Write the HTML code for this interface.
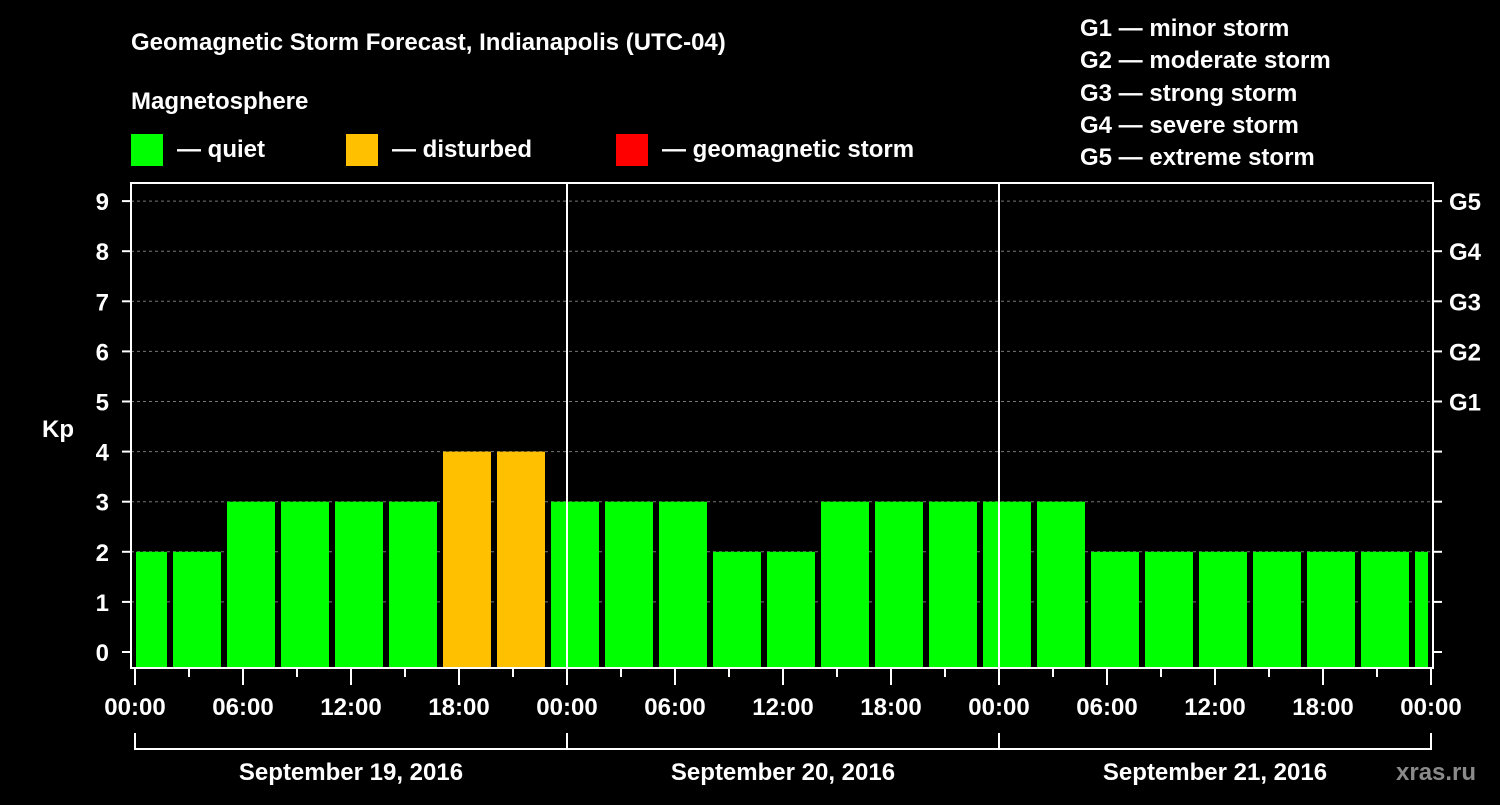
<!DOCTYPE html>
<html><head><meta charset="utf-8"><style>
body{margin:0;background:#000;width:1500px;height:800px;overflow:hidden}
svg text{font-family:"Liberation Sans",sans-serif;font-weight:bold;fill:#fff}
</style></head><body>
<svg id="c" width="1500" height="800" xmlns="http://www.w3.org/2000/svg">
<text x="131" y="50" font-size="24">Geomagnetic Storm Forecast, Indianapolis (UTC-04)</text>
<text x="131" y="109" font-size="24">Magnetosphere</text>
<rect x="131" y="134" width="32" height="32" fill="#00ff00"/>
<text x="177" y="157" font-size="24">— quiet</text>
<rect x="346" y="134" width="32" height="32" fill="#ffc000"/>
<text x="392" y="157" font-size="24">— disturbed</text>
<rect x="616" y="134" width="32" height="32" fill="#ff0000"/>
<text x="662" y="157" font-size="24">— geomagnetic storm</text>
<g font-size="24">
<text x="1080" y="36">G1 — minor storm</text>
<text x="1080" y="68">G2 — moderate storm</text>
<text x="1080" y="101">G3 — strong storm</text>
<text x="1080" y="133">G4 — severe storm</text>
<text x="1080" y="165">G5 — extreme storm</text>
</g>
<text x="42" y="437" font-size="24">Kp</text>
<text x="1396" y="780" font-size="24" fill="#888" style="fill:#8a8a8a">xras.ru</text>
<g id="plot"></g>
</svg>
<script>
const values=[2,2,3,3,3,3,4,4,3,3,3,2,2,3,3,3,3,3,2,2,2,2,2,2,2];
const startHours=[-1,2,5,8,11,14,17,20,23,26,29,32,35,38,41,44,47,50,53,56,59,62,65,68,71];
const yTicks=[0,1,2,3,4,5,6,7,8,9];
const gLabels=["G1","G2","G3","G4","G5"];
const xLabels=["00:00","06:00","12:00","18:00","00:00","06:00","12:00","18:00","00:00","06:00","12:00","18:00","00:00"];
const dayLabels=["September 19, 2016","September 20, 2016","September 21, 2016"];
const NS="http://www.w3.org/2000/svg";
const g=document.getElementById('plot');
const X=h=>135+h*18, Y=v=>652-v*50.1;
const L=131,R=1433,T=183,B=668;
function mk(t,a){const e=document.createElementNS(NS,t);for(const k in a)e.setAttribute(k,a[k]);g.appendChild(e);return e;}
yTicks.forEach(v=>{
 if(v>0){const l=mk('line',{x1:L,x2:R,y1:Y(v),y2:Y(v),stroke:'#777','stroke-dasharray':'3,3','stroke-width':1});
 
 }
 mk('line',{x1:L-9,x2:L,y1:Y(v),y2:Y(v),stroke:'#fff','stroke-width':2});
 mk('line',{x1:R,x2:R+9,y1:Y(v),y2:Y(v),stroke:'#fff','stroke-width':2});
 const t=mk('text',{x:L-22,y:Y(v)+9,'font-size':24,'text-anchor':'end'});t.textContent=v;
 
 
});
gLabels.forEach((s,i)=>{const t=mk('text',{x:1449,y:Y(5+i)+9,'font-size':24});t.textContent=s;
 
 });
values.forEach((v,i)=>{
 const a=Math.max(X(startHours[i])+2,L+5), b=Math.min(X(startHours[i]+3)-4,R-5);
 const r=mk('rect',{x:a,y:Y(v),width:b-a,height:Y(0)-Y(v)+16,fill:v>=5?'#ff0000':v>=4?'#ffc000':'#00ff00'});
 
 
});
[24,48].forEach(h=>mk('line',{x1:X(h),x2:X(h),y1:T,y2:B,stroke:'#fff','stroke-width':2}));
const f=mk('rect',{x:L,y:T,width:R-L,height:B-T,fill:'none',stroke:'#fff','stroke-width':2});


for(let h=0;h<=72;h+=3){mk('line',{x1:X(h),x2:X(h),y1:B,y2:B+(h%6===0?17:9),stroke:'#fff','stroke-width':2});}
xLabels.forEach((s,i)=>{const t=mk('text',{x:X(i*6),y:715,'font-size':24,'text-anchor':'middle'});t.textContent=s;
 
 });
mk('line',{x1:X(0),x2:X(72),y1:749,y2:749,stroke:'#fff','stroke-width':2});
[0,24,48,72].forEach(h=>mk('line',{x1:X(h),x2:X(h),y1:733,y2:750,stroke:'#fff','stroke-width':2}));
dayLabels.forEach((s,i)=>{const t=mk('text',{x:X(i*24+12),y:780,'font-size':24,'text-anchor':'middle'});t.textContent=s;
 
 });
</script>
</body></html>
